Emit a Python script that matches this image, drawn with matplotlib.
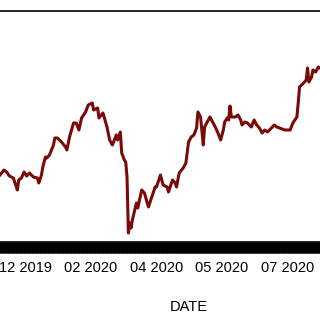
import pandas as pd
import matplotlib
matplotlib.use('Agg')
import matplotlib.pyplot as plt
import matplotlib.dates as mdates

plt.rcParams['font.family'] = ['Liberation Sans', 'DejaVu Sans']

start = pd.Timestamp('2019-12-11')

# days after start, and the price
days = [0, 3, 5, 7, 10, 13, 14, 16, 18, 20, 22, 25, 28, 29, 31, 32, 34, 35, 37, 40,
        41, 43, 46, 49, 50, 52, 55, 57, 59, 61, 64, 66, 69, 70, 73, 74, 77, 80, 82, 84,
        87, 88, 90, 91, 93, 94, 95, 96, 97, 98, 99, 102, 103, 106, 108, 111, 114, 116, 117, 120,
        122, 125, 126, 129, 131, 132, 134, 137, 139, 141, 143, 145, 147, 148, 150, 152, 153, 155, 157, 159,
        161, 163, 165, 167, 168, 170, 171, 172, 173, 176, 178, 180, 181, 183, 185, 188, 190, 192, 194, 196,
        198, 200, 203, 205, 207, 209, 213, 217, 219, 222, 223, 224, 227, 229, 230, 231, 233, 234, 236, 238,
        239, 241]
price = [67, 72, 70, 66, 64, 52, 62, 64, 70, 66, 69, 65, 64, 59, 67, 75, 85, 84, 87, 97,
         104, 104, 100, 95, 92, 105, 119, 119, 112, 124, 130, 137, 139, 132, 134, 124, 129, 115, 102, 97,
         107, 102, 110, 89, 82, 80, 65, 9, 19, 14, 22, 39, 34, 52, 49, 35, 47, 55, 55, 67,
         57, 55, 50, 62, 59, 55, 69, 74, 79, 100, 105, 107, 114, 130, 125, 97, 115, 120, 125, 120,
         115, 109, 102, 112, 120, 124, 122, 136, 125, 125, 127, 122, 117, 120, 119, 115, 122, 117, 114, 109,
         112, 110, 114, 117, 115, 114, 112, 112, 119, 125, 139, 155, 159, 162, 174, 160, 165, 172, 170, 175,
         174, 173]

tick_dates = ['2019-12-30', '2020-02-17', '2020-04-06', '2020-05-25', '2020-07-13']

dates = [start + pd.Timedelta(days=d) for d in days]

fig = plt.figure(figsize=(3.2, 3.2), dpi=100)
ax = fig.add_axes([0, 0.24375, 1, 0.721875])
ax.plot(dates, price, color='#7a0a0a', lw=2.2)

ax.set_xlim(start, start + pd.Timedelta(days=239.3))
ax.set_ylim(0, 231)

ax.spines['left'].set_visible(False)
ax.spines['right'].set_visible(False)
ax.spines['top'].set_linewidth(1.2)
ax.spines['bottom'].set_linewidth(1.2)
ax.set_yticks([])

ax.set_xticks(pd.to_datetime(tick_dates))
ax.xaxis.set_major_formatter(mdates.DateFormatter('%m %Y'))
ax.xaxis.set_minor_locator(mdates.DayLocator())
ax.tick_params(axis='x', which='both', direction='out', length=8, width=2,
               labelsize=10.5, pad=6)

fig.text(189 / 320, 1 - 307 / 320, 'DATE', ha='center', va='center', fontsize=10.5)

fig.savefig('out.png', dpi=100)
